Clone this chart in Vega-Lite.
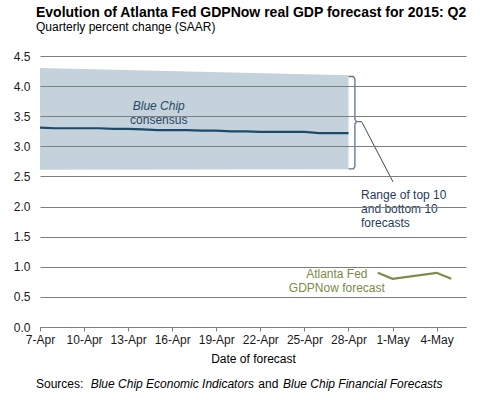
{
  "$schema": "https://vega.github.io/schema/vega-lite/v6.json",
  "width": 426,
  "height": 271,
  "autosize": {"type": "none"},
  "padding": {"left": 40, "top": 56, "right": 14, "bottom": 73},
  "background": "white",
  "config": {
    "font": "Liberation Sans",
    "view": {"stroke": null},
    "title": {"font": "Liberation Sans", "subtitleFont": "Liberation Sans"}
  },
  "title": {
    "text": "Evolution of Atlanta Fed GDPNow real GDP forecast for 2015: Q2",
    "subtitle": "Quarterly percent change (SAAR)",
    "anchor": "start",
    "frame": "group",
    "dx": -4,
    "offset": 17,
    "fontSize": 14,
    "fontWeight": "bold",
    "color": "#000000",
    "subtitleFontSize": 12,
    "subtitleColor": "#000000",
    "subtitlePadding": 2
  },
  "datasets": {
    "band": [
      {"date": "2015-04-07T00:00", "hi": 4.30, "lo": 2.61},
      {"date": "2015-04-28T00:00", "hi": 4.18, "lo": 2.62}
    ],
    "consensus": [
      {"date": "2015-04-07T00:00", "v": 3.31},
      {"date": "2015-04-08T00:00", "v": 3.30},
      {"date": "2015-04-09T00:00", "v": 3.30},
      {"date": "2015-04-10T00:00", "v": 3.30},
      {"date": "2015-04-11T00:00", "v": 3.30},
      {"date": "2015-04-12T00:00", "v": 3.29},
      {"date": "2015-04-13T00:00", "v": 3.29},
      {"date": "2015-04-14T00:00", "v": 3.28},
      {"date": "2015-04-15T00:00", "v": 3.27},
      {"date": "2015-04-16T00:00", "v": 3.27},
      {"date": "2015-04-17T00:00", "v": 3.27},
      {"date": "2015-04-18T00:00", "v": 3.26},
      {"date": "2015-04-19T00:00", "v": 3.26},
      {"date": "2015-04-20T00:00", "v": 3.25},
      {"date": "2015-04-21T00:00", "v": 3.25},
      {"date": "2015-04-22T00:00", "v": 3.24},
      {"date": "2015-04-23T00:00", "v": 3.24},
      {"date": "2015-04-24T00:00", "v": 3.24},
      {"date": "2015-04-25T00:00", "v": 3.24},
      {"date": "2015-04-26T00:00", "v": 3.22},
      {"date": "2015-04-27T00:00", "v": 3.22},
      {"date": "2015-04-28T00:00", "v": 3.22}
    ],
    "gdpnow": [
      {"date": "2015-04-30T00:00", "v": 0.9},
      {"date": "2015-05-01T00:00", "v": 0.8},
      {"date": "2015-05-04T00:00", "v": 0.9},
      {"date": "2015-05-05T00:00", "v": 0.8}
    ],
    "bracket": [
      {"order": 1, "date": "2015-04-28T00:00", "v": 4.16},
      {"order": 2, "date": "2015-04-28T08:00", "v": 4.16},
      {"order": 3, "date": "2015-04-28T10:30", "v": 4.12},
      {"order": 4, "date": "2015-04-28T10:30", "v": 3.45},
      {"order": 5, "date": "2015-04-28T13:00", "v": 3.41},
      {"order": 6, "date": "2015-04-28T22:00", "v": 3.41},
      {"order": 7, "date": "2015-04-28T13:00", "v": 3.41},
      {"order": 8, "date": "2015-04-28T10:30", "v": 3.37},
      {"order": 9, "date": "2015-04-28T10:30", "v": 2.665},
      {"order": 10, "date": "2015-04-28T08:00", "v": 2.625},
      {"order": 11, "date": "2015-04-28T00:00", "v": 2.625}
    ],
    "leader": [
      {"order": 1, "date": "2015-04-28T22:00", "v": 3.40},
      {"order": 2, "date": "2015-05-01T00:45", "v": 2.41}
    ]
  },
  "layer": [
    {
      "data": {"name": "band"},
      "mark": {"type": "area", "color": "#C4D2DB", "opacity": 1},
      "encoding": {
        "x": {
          "field": "date",
          "type": "temporal",
          "scale": {"domain": [{"year": 2015, "month": 4, "date": 7}, {"year": 2015, "month": 5, "date": 6}]},
          "axis": {
            "values": [
              {"year": 2015, "month": 4, "date": 7},
              {"year": 2015, "month": 4, "date": 10},
              {"year": 2015, "month": 4, "date": 13},
              {"year": 2015, "month": 4, "date": 16},
              {"year": 2015, "month": 4, "date": 19},
              {"year": 2015, "month": 4, "date": 22},
              {"year": 2015, "month": 4, "date": 25},
              {"year": 2015, "month": 4, "date": 28},
              {"year": 2015, "month": 5, "date": 1},
              {"year": 2015, "month": 5, "date": 4}
            ],
            "format": "%-d-%b",
            "grid": false,
            "domainColor": "#7F7F7F",
            "tickColor": "#7F7F7F",
            "tickSize": 4,
            "labelFontSize": 12,
            "labelColor": "#1A1A1A",
            "labelPadding": 3,
            "labelFlush": false,
            "labelOverlap": false,
            "title": "Date of forecast",
            "titleFontSize": 12,
            "titleFontWeight": "normal",
            "titleColor": "#000000",
            "titlePadding": 8
          }
        },
        "y": {
          "field": "hi",
          "type": "quantitative",
          "scale": {"domain": [0, 4.5], "nice": false},
          "axis": {
            "values": [0, 0.5, 1, 1.5, 2, 2.5, 3, 3.5, 4, 4.5],
            "tickCount": 10,
            "format": ".1f",
            "domain": false,
            "ticks": false,
            "grid": true,
            "gridColor": "#7F7F7F",
            "gridWidth": 1,
            "labelFontSize": 12,
            "labelColor": "#1A1A1A",
            "labelPadding": 10,
            "labelOverlap": false,
            "labelFlush": false,
            "title": null,
            "zindex": 1
          }
        },
        "y2": {"field": "lo"}
      }
    },
    {
      "data": {"name": "consensus"},
      "mark": {"type": "line", "color": "#1D4A6B", "strokeWidth": 2.2},
      "encoding": {
        "x": {"field": "date", "type": "temporal"},
        "y": {"field": "v", "type": "quantitative"}
      }
    },
    {
      "data": {"name": "gdpnow"},
      "mark": {"type": "line", "color": "#7B8C45", "strokeWidth": 2.2},
      "encoding": {
        "x": {"field": "date", "type": "temporal"},
        "y": {"field": "v", "type": "quantitative"}
      }
    },
    {
      "data": {"name": "bracket"},
      "mark": {"type": "line", "color": "#5F7383", "strokeWidth": 1.3},
      "encoding": {
        "x": {"field": "date", "type": "temporal"},
        "y": {"field": "v", "type": "quantitative"},
        "order": {"field": "order"}
      }
    },
    {
      "data": {"name": "leader"},
      "mark": {"type": "line", "color": "#3C4A55", "strokeWidth": 1},
      "encoding": {
        "x": {"field": "date", "type": "temporal"},
        "y": {"field": "v", "type": "quantitative"},
        "order": {"field": "order"}
      }
    },
    {
      "data": {"values": [{"date": "2015-04-15T02:00", "v": 3.605, "label": "Blue Chip"}]},
      "mark": {"type": "text", "align": "center", "baseline": "alphabetic", "fontSize": 12, "fontStyle": "italic", "color": "#2A4866"},
      "encoding": {
        "x": {"field": "date", "type": "temporal"},
        "y": {"field": "v", "type": "quantitative"},
        "text": {"field": "label"}
      }
    },
    {
      "data": {"values": [{"date": "2015-04-15T02:00", "v": 3.37, "label": "consensus"}]},
      "mark": {"type": "text", "align": "center", "baseline": "alphabetic", "fontSize": 12, "color": "#2A4866"},
      "encoding": {
        "x": {"field": "date", "type": "temporal"},
        "y": {"field": "v", "type": "quantitative"},
        "text": {"field": "label"}
      }
    },
    {
      "data": {"values": [{"date": "2015-04-28T20:30", "v": 2.126, "label": "Range of top 10\nand bottom 10\nforecasts"}]},
      "mark": {"type": "text", "align": "left", "baseline": "alphabetic", "fontSize": 12, "lineBreak": "\n", "lineHeight": 14, "color": "#1F3A5A"},
      "encoding": {
        "x": {"field": "date", "type": "temporal"},
        "y": {"field": "v", "type": "quantitative"},
        "text": {"field": "label"}
      }
    },
    {
      "data": {"values": [{"date": "2015-04-27T05:00", "v": 0.809, "label": "Atlanta Fed\nGDPNow forecast"}]},
      "mark": {"type": "text", "align": "center", "baseline": "alphabetic", "fontSize": 12, "lineBreak": "\n", "lineHeight": 14, "color": "#7B8C45"},
      "encoding": {
        "x": {"field": "date", "type": "temporal"},
        "y": {"field": "v", "type": "quantitative"},
        "text": {"field": "label"}
      }
    },
    {
      "data": {"values": [
        {"date": "2015-04-06T17:30", "v": -1.013, "label": "Sources:"},
        {"date": "2015-04-21T20:40", "v": -1.013, "label": "and"}
      ]},
      "mark": {"type": "text", "align": "left", "baseline": "alphabetic", "fontSize": 12, "color": "#000000"},
      "encoding": {
        "x": {"field": "date", "type": "temporal"},
        "y": {"field": "v", "type": "quantitative"},
        "text": {"field": "label"}
      }
    },
    {
      "data": {"values": [
        {"date": "2015-04-10T10:50", "v": -1.013, "label": "Blue Chip Economic Indicators"},
        {"date": "2015-04-23T13:00", "v": -1.013, "label": "Blue Chip Financial Forecasts"}
      ]},
      "mark": {"type": "text", "align": "left", "baseline": "alphabetic", "fontSize": 12, "fontStyle": "italic", "color": "#000000"},
      "encoding": {
        "x": {"field": "date", "type": "temporal"},
        "y": {"field": "v", "type": "quantitative"},
        "text": {"field": "label"}
      }
    }
  ]
}
